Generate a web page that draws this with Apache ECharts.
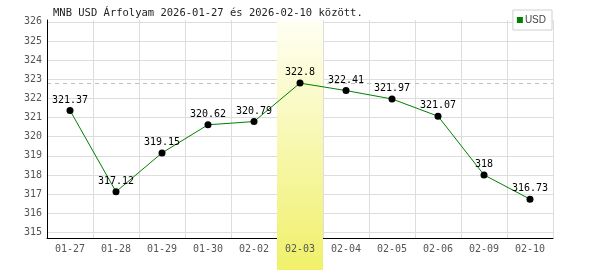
<!DOCTYPE html>
<html>
<head>
<meta charset="utf-8">
<script src="https://cdn.jsdelivr.net/npm/echarts@6/dist/echarts.min.js"></script>
<style>html,body{margin:0;padding:0;background:#fff}#c{width:600px;height:270px}</style>
</head>
<body>
<div id="c"></div>
<script>
const categories = ['01-27','01-28','01-29','01-30','02-02','02-03','02-04','02-05','02-06','02-09','02-10'];
const usdValues = [321.37, 317.12, 319.15, 320.62, 320.79, 322.8, 322.41, 321.97, 321.07, 318, 316.73];
const yTickMin = 315;
const yTickMax = 326;
const highlightCategory = '02-03';
const titleText = 'MNB USD Árfolyam 2026-01-27 és 2026-02-10 között.';

const mono = 'DejaVu Sans Mono';
const bandData = categories.map(c => c === highlightCategory ? 1 : '-');

const chart = echarts.init(document.getElementById('c'), null, {renderer: 'canvas'});
chart.setOption({
  animation: false,
  backgroundColor: '#fff',
  title: {
    text: titleText, left: 53, top: 8, padding: 0,
    textStyle: {fontFamily: mono, fontSize: 10.5, fontWeight: 'normal', color: '#222'}
  },
  legend: {
    data: [{name: 'USD', icon: 'rect', itemStyle: {color: '#008000'}}],
    right: 48, top: 10, itemWidth: 6, itemHeight: 6,
    padding: [5, 6, 5, 4],
    backgroundColor: '#fff', borderColor: '#d0d0d0', borderWidth: 1, borderRadius: 0,
    textStyle: {fontFamily: 'Liberation Sans', fontSize: 10, color: '#444', padding: [0, 0, 0, -3]},
    z: 10
  },
  grid: [
    {left: 47, right: 47, top: 20, bottom: 0},
    {left: 47, right: 47, top: 20, bottom: 32},
    {left: 47, right: 47, top: 21.9, bottom: 37.7}
  ],
  xAxis: [
    {type: 'category', gridIndex: 0, data: categories, show: false},
    {type: 'category', gridIndex: 1, data: categories, boundaryGap: true,
     axisLine: {show: true, lineStyle: {color: '#000', width: 1}},
     axisTick: {show: false}, axisLabel: {show: false},
     splitLine: {show: true, interval: 0, lineStyle: {color: '#dddddd', width: 1}}},
    {type: 'category', gridIndex: 2, data: categories, boundaryGap: true, offset: 5.6, z: 5,
     axisLine: {show: false}, axisTick: {show: false}, splitLine: {show: false},
     axisLabel: {show: true, interval: 0, margin: 7, fontFamily: mono, fontSize: 10, color: '#555'}}
  ],
  yAxis: [
    {type: 'value', gridIndex: 0, min: 0, max: 1, show: false},
    {type: 'value', gridIndex: 1, min: 314.7, max: 326.1,
     axisLine: {show: true, lineStyle: {color: '#000', width: 1}},
     axisTick: {show: false}, axisLabel: {show: false}, splitLine: {show: false}},
    {type: 'value', gridIndex: 2, min: yTickMin, max: yTickMax, interval: 1,
     axisLine: {show: false}, axisTick: {show: false},
     axisLabel: {margin: 5, fontFamily: mono, fontSize: 10, color: '#555'},
     splitLine: {show: true, lineStyle: {color: '#dddddd', width: 1}}}
  ],
  series: [
    {
      name: 'band', type: 'bar', xAxisIndex: 0, yAxisIndex: 0, data: bandData,
      barWidth: '100%', silent: true, z: 1,
      itemStyle: {color: new echarts.graphic.LinearGradient(0, 0, 0, 1, [
        {offset: 0, color: '#fffff4'}, {offset: 1, color: '#f0f06a'}])}
    },
    {
      name: 'maxline', type: 'line', xAxisIndex: 1, yAxisIndex: 1, data: usdValues,
      showSymbol: false, symbol: 'none', lineStyle: {width: 0, opacity: 0}, silent: true, z: 0,
      markLine: {
        z: 0, silent: true, symbol: ['none', 'none'], label: {show: false},
        lineStyle: {type: [4, 4], color: '#b4c8b4', width: 1},
        data: [{type: 'max'}]
      }
    },
    {
      name: 'USD', type: 'line', xAxisIndex: 1, yAxisIndex: 1, data: usdValues, z: 3,
      symbol: 'circle', symbolSize: 7,
      itemStyle: {color: '#000'},
      lineStyle: {color: '#008000', width: 1},
      label: {show: true, position: 'top', distance: 2, fontFamily: mono, fontSize: 10, color: '#000'}
    }
  ]
});
</script>
</body>
</html>
